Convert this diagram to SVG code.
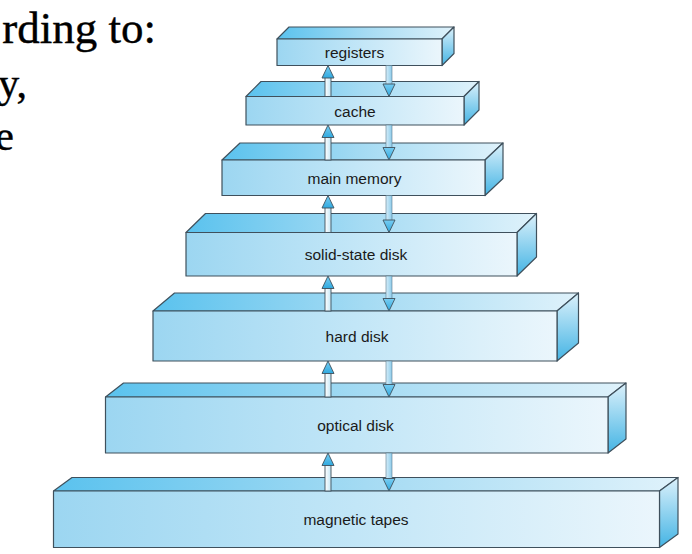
<svg xmlns="http://www.w3.org/2000/svg" width="692" height="554" viewBox="0 0 692 554">
<defs>
<linearGradient id="gFront" x1="0" y1="0" x2="1" y2="0">
<stop offset="0" stop-color="#9cd6f1"/>
<stop offset="0.5" stop-color="#c2e6f7"/>
<stop offset="1" stop-color="#ebf6fc"/>
</linearGradient>
<linearGradient id="gTop" x1="0" y1="0" x2="1" y2="0">
<stop offset="0" stop-color="#5ac2ee"/>
<stop offset="0.5" stop-color="#a5dbf3"/>
<stop offset="1" stop-color="#dff2fb"/>
</linearGradient>
<linearGradient id="gSide" x1="0" y1="0" x2="0" y2="1">
<stop offset="0" stop-color="#dcf1fb"/>
<stop offset="1" stop-color="#44b4e4"/>
</linearGradient>
<linearGradient id="gUpShaft" x1="0" y1="0" x2="1" y2="0">
<stop offset="0" stop-color="#ffffff"/>
<stop offset="1" stop-color="#c6e7f6"/>
</linearGradient>
<linearGradient id="gDownShaft" x1="0" y1="0" x2="1" y2="0">
<stop offset="0" stop-color="#d4edf9"/>
<stop offset="1" stop-color="#8ccbea"/>
</linearGradient>
<linearGradient id="gHead" x1="0" y1="0" x2="0" y2="1">
<stop offset="0" stop-color="#78cdf2"/>
<stop offset="1" stop-color="#2fa9df"/>
</linearGradient>
</defs>
<style>
.front{fill:url(#gFront);stroke:#3f505c;stroke-width:1.2;stroke-linejoin:round}
.top{fill:url(#gTop);stroke:#3f505c;stroke-width:1.2;stroke-linejoin:round}
.side{fill:url(#gSide);stroke:#3f505c;stroke-width:1.2;stroke-linejoin:round}
.label{font-family:"Liberation Sans",Arial,sans-serif;font-size:15.5px;fill:#1a1a1a;text-anchor:middle}
.slide{font-family:"Liberation Serif","Times New Roman",serif;fill:#000;text-anchor:end;stroke:#000;stroke-width:0.4}
.upshaft{fill:url(#gUpShaft);stroke:#3f505c;stroke-width:0.9}
.downshaft{fill:url(#gDownShaft);stroke:#5a7a8c;stroke-width:0.6}
.head{fill:url(#gHead);stroke:#3f505c;stroke-width:0.9;stroke-linejoin:round}
</style>
<rect width="692" height="554" fill="#ffffff"/>

<g id="slide-text">
<text class="slide" x="156" y="43" font-size="45">rding to:</text>
<text class="slide" x="27" y="97" font-size="42">y,</text>
<text class="slide" x="14" y="150" font-size="42">e</text>
</g>

<g id="registers">
<polygon class="top" points="277,39 289,27 454,27 442,39"/>
<polygon class="side" points="442,39 454,27 454,53.5 442,65.5"/>
<rect class="front" x="277" y="39" width="165" height="26.5"/>
<text class="label" x="354.5" y="57.5">registers</text>
</g>

<g id="cache">
<polygon class="top" points="246,96.5 261,81.5 479,81.5 464,96.5"/>
<polygon class="side" points="464,96.5 479,81.5 479,110 464,125"/>
<rect class="front" x="246" y="96.5" width="218" height="28.5"/>
<text class="label" x="355" y="116.5">cache</text>
</g>

<g id="main-memory">
<polygon class="top" points="222,160 240,143 503,143 485,160"/>
<polygon class="side" points="485,160 503,143 503,178.5 485,195.5"/>
<rect class="front" x="222" y="160" width="263" height="35.5"/>
<text class="label" x="354.5" y="183.5">main memory</text>
</g>

<g id="solid-state-disk">
<polygon class="top" points="186,232.5 205.5,213.5 536.5,213.5 517,232.5"/>
<polygon class="side" points="517,232.5 536.5,213.5 536.5,257 517,276"/>
<rect class="front" x="186" y="232.5" width="331" height="43.5"/>
<text class="label" x="356" y="260">solid-state disk</text>
</g>

<g id="hard-disk">
<polygon class="top" points="153,311 174.5,293 578.5,293 557,311"/>
<polygon class="side" points="557,311 578.5,293 578.5,343 557,361"/>
<rect class="front" x="153" y="311" width="404" height="50"/>
<text class="label" x="357" y="341.5">hard disk</text>
</g>

<g id="optical-disk">
<polygon class="top" points="105.5,397 123.5,383 626,383 608,397"/>
<polygon class="side" points="608,397 626,383 626,439 608,453"/>
<rect class="front" x="105.5" y="397" width="502.5" height="56"/>
<text class="label" x="355.5" y="430.5">optical disk</text>
</g>

<g id="magnetic-tapes">
<polygon class="top" points="53.5,491 72,477.5 678,477.5 659.5,491"/>
<polygon class="side" points="659.5,491 678,477.5 678,534 659.5,547.5"/>
<rect class="front" x="53.5" y="491" width="606" height="56.5"/>
<text class="label" x="356" y="525">magnetic tapes</text>
</g>

<g id="connectors">
<rect class="upshaft" x="325" y="77.5" width="6" height="19"/>
<polygon class="head" points="322,78 328,65.5 334,78"/>
<rect class="downshaft" x="386" y="65.5" width="6" height="19"/>
<polygon class="head" points="383,84 389,96.5 395,84"/>
<rect class="upshaft" x="325" y="137" width="6" height="23"/>
<polygon class="head" points="322,137.5 328,125 334,137.5"/>
<rect class="downshaft" x="386" y="125" width="6" height="23"/>
<polygon class="head" points="383,147.5 389,160 395,147.5"/>
<rect class="upshaft" x="325" y="207.5" width="6" height="25"/>
<polygon class="head" points="322,208 328,195.5 334,208"/>
<rect class="downshaft" x="386" y="195.5" width="6" height="25"/>
<polygon class="head" points="383,220 389,232.5 395,220"/>
<rect class="upshaft" x="325" y="288" width="6" height="23"/>
<polygon class="head" points="322,288.5 328,276 334,288.5"/>
<rect class="downshaft" x="386" y="276" width="6" height="23"/>
<polygon class="head" points="383,298.5 389,311 395,298.5"/>
<rect class="upshaft" x="325" y="373" width="6" height="24"/>
<polygon class="head" points="322,373.5 328,361 334,373.5"/>
<rect class="downshaft" x="386" y="361" width="6" height="24"/>
<polygon class="head" points="383,384.5 389,397 395,384.5"/>
<rect class="upshaft" x="325" y="465" width="6" height="26"/>
<polygon class="head" points="322,465.5 328,453 334,465.5"/>
<rect class="downshaft" x="386" y="453" width="6" height="26"/>
<polygon class="head" points="383,478.5 389,491 395,478.5"/>
</g>
</svg>
